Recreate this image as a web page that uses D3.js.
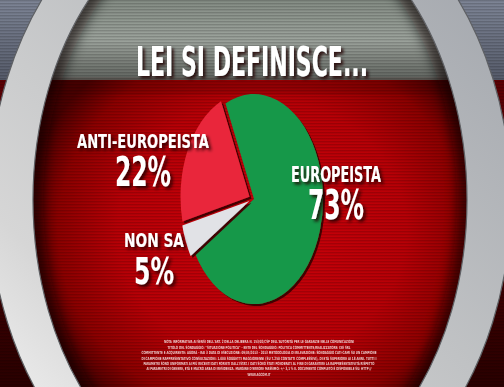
<!DOCTYPE html>
<html>
<head>
<meta charset="utf-8">
<script src="https://cdn.jsdelivr.net/npm/d3@7.9.0/dist/d3.min.js"></script>
<style>
  html, body { margin: 0; padding: 0; background: #000; overflow: hidden; }
  text { font-family: "Liberation Sans Narrow", "DejaVu Sans Condensed", "Liberation Sans", sans-serif; font-weight: bold; }
</style>
</head>
<body>
<svg id="chart" width="504" height="387"></svg>
<script>
// chart data
const categories = ['EUROPEISTA', 'NON SA', 'ANTI-EUROPEISTA'];
const values = [73, 5, 22];
const sliceColors = ['#17984a', '#e1e2e6', '#e9283a'];
const title = 'LEI SI DEFINISCE...';
const noteLines = [
  "NOTA INFORMATIVA AI SENSI DELL'ART. 2 DELLA DELIBERA N. 153/02/CSP DELL'AUTORITÀ PER LE GARANZIE NELLE COMUNICAZIONI",
  "TITOLO DEL SONDAGGIO: \"SITUAZIONE POLITICA\" - ENTE DEL SONDAGGIO: POLITICA COMMITTENTE/REALIZZATORE: IXÈ SRL",
  "COMMITTENTE E ACQUIRENTE: AGORÀ - RAI 3 DATA DI ESECUZIONE: 09/05/2013 - 2013 METODOLOGIA DI RILEVAZIONE: SONDAGGIO CATI-CAMI SU UN CAMPIONE",
  "DI CAMPIONE RAPPRESENTATIVO CONSULTAZIONI: 1.000 SOGGETTI MAGGIORENNI (SU 7.250 CONTATTI COMPLESSIVI), DI ETÀ SUPERIORE AI 18 ANNI. TUTTI I",
  "PARAMETRI SONO UNIFORMATI AI PIÙ RECENTI DATI FORNITI DALL'ISTAT. I DATI SONO STATI PONDERATI AL FINE DI GARANTIRE LA RAPPRESENTATIVITÀ RISPETTO",
  "AI PARAMETRI DI GENERE, ETÀ E MACRO AREA DI RESIDENZA. MARGINE D'ERRORE MASSIMO: +/- 3,1 % IL DOCUMENTO COMPLETO È DISPONIBILE SU: HTTP://",
  "WWW.AGCOM.IT"
];

const W = 504, H = 387;
const svg = d3.select('#chart');
const defs = svg.append('defs');

// ---- background stuff ----
const ringC = { x: 250, y: 200 };
const outerR = { x: 261, y: 332 };
const innerR = { x: 217, y: 299 };
const split = 80; // where the grey band ends and the red starts

const redGrad = defs.append('radialGradient').attr('id', 'redGrad')
  .attr('gradientUnits', 'userSpaceOnUse')
  .attr('cx', 262).attr('cy', 230).attr('r', 240)
  .attr('gradientTransform', 'translate(262,230) scale(1,0.9) translate(-262,-230)');
redGrad.append('stop').attr('offset', '0%').attr('stop-color', '#cc000a');
redGrad.append('stop').attr('offset', '60%').attr('stop-color', '#b80006');
redGrad.append('stop').attr('offset', '85%').attr('stop-color', '#8c0000');
redGrad.append('stop').attr('offset', '100%').attr('stop-color', '#4a0000');

const greyGrad = defs.append('linearGradient').attr('id', 'greyGrad')
  .attr('x1', 0).attr('y1', 0).attr('x2', 0).attr('y2', 1);
greyGrad.append('stop').attr('offset', '0%').attr('stop-color', '#858d85');
greyGrad.append('stop').attr('offset', '50%').attr('stop-color', '#9ca39c');
greyGrad.append('stop').attr('offset', '100%').attr('stop-color', '#60645f');

const outGrey = defs.append('linearGradient').attr('id', 'outGrey')
  .attr('x1', 0).attr('y1', 0).attr('x2', 0).attr('y2', 1);
outGrey.append('stop').attr('offset', '0%').attr('stop-color', '#7e8596');
outGrey.append('stop').attr('offset', '100%').attr('stop-color', '#565b6a');

const outRed = defs.append('linearGradient').attr('id', 'outRed')
  .attr('x1', 0).attr('y1', 0).attr('x2', 0).attr('y2', 1);
outRed.append('stop').attr('offset', '0%').attr('stop-color', '#6a0004');
outRed.append('stop').attr('offset', '100%').attr('stop-color', '#2a0000');

const ringGrad = defs.append('linearGradient').attr('id', 'ringGrad')
  .attr('x1', 0.9).attr('y1', 0).attr('x2', 0.1).attr('y2', 1);
ringGrad.append('stop').attr('offset', '0%').attr('stop-color', '#9fa3aa');
ringGrad.append('stop').attr('offset', '45%').attr('stop-color', '#c0c2c4');
ringGrad.append('stop').attr('offset', '75%').attr('stop-color', '#d6d6d6');
ringGrad.append('stop').attr('offset', '100%').attr('stop-color', '#fafafa');

const stripes = defs.append('pattern').attr('id', 'stripes')
  .attr('patternUnits', 'userSpaceOnUse').attr('width', 8).attr('height', 3);
stripes.append('rect').attr('width', 8).attr('height', 1.4).attr('fill', '#000').attr('opacity', 0.16);

defs.append('clipPath').attr('id', 'inside')
  .append('ellipse').attr('cx', ringC.x).attr('cy', ringC.y).attr('rx', innerR.x).attr('ry', innerR.y);

const blur = defs.append('filter').attr('id', 'blur').attr('x', '-20%').attr('y', '-20%').attr('width', '140%').attr('height', '140%');
blur.append('feGaussianBlur').attr('stdDeviation', 6);

const textShadow = defs.append('filter').attr('id', 'textShadow')
  .attr('x', '-20%').attr('y', '-30%').attr('width', '150%').attr('height', '170%');
textShadow.append('feDropShadow').attr('dx', 2.5).attr('dy', 2.5).attr('stdDeviation', 1.4)
  .attr('flood-color', '#1a0000').attr('flood-opacity', 0.85);

const sliceShadow = defs.append('filter').attr('id', 'sliceShadow')
  .attr('x', '-20%').attr('y', '-20%').attr('width', '140%').attr('height', '140%');
sliceShadow.append('feDropShadow').attr('dx', 2).attr('dy', 2).attr('stdDeviation', 0.6)
  .attr('flood-color', '#3c0000').attr('flood-opacity', 0.95);

// outside the ring
svg.append('rect').attr('width', W).attr('height', H).attr('fill', 'url(#outRed)');
svg.append('rect').attr('width', W).attr('height', split).attr('fill', 'url(#outGrey)');

// inside the ring
const inside = svg.append('g').attr('clip-path', 'url(#inside)');
inside.append('rect').attr('width', W).attr('height', H).attr('fill', 'url(#redGrad)');
inside.append('rect').attr('width', W).attr('height', split).attr('fill', 'url(#greyGrad)');
// dark shade just under the title band
inside.append('rect').attr('x', 0).attr('y', split).attr('width', W).attr('height', 12)
  .attr('fill', '#3a0000').attr('opacity', 0.3).attr('filter', 'url(#blur)');
// inner shadow along the ring
inside.append('ellipse').attr('cx', ringC.x).attr('cy', ringC.y).attr('rx', innerR.x).attr('ry', innerR.y)
  .attr('fill', 'none').attr('stroke', '#100000').attr('stroke-width', 20).attr('opacity', 0.6)
  .attr('filter', 'url(#blur)');

svg.append('rect').attr('width', W).attr('height', H).attr('fill', 'url(#stripes)');

// metal ring
const ellipsePath = (c, r) =>
  `M${c.x - r.x},${c.y}a${r.x},${r.y} 0 1,0 ${2 * r.x},0a${r.x},${r.y} 0 1,0 ${-2 * r.x},0Z`;
svg.append('path')
  .attr('d', ellipsePath(ringC, outerR) + ellipsePath(ringC, innerR))
  .attr('fill-rule', 'evenodd').attr('fill', 'url(#ringGrad)')
  .attr('stroke', '#5e6064').attr('stroke-width', 1.2);

// ---- title ----
svg.append('text').attr('x', 252).attr('y', 76)
  .attr('text-anchor', 'middle').attr('font-size', 40)
  .attr('textLength', 232).attr('lengthAdjust', 'spacingAndGlyphs')
  .attr('fill', '#fff').attr('filter', 'url(#textShadow)')
  .text(title);

// ---- pie ----
const cx = 254, cy = 199;
const ry = 105, rx = 69;
const start = -24.4 * Math.PI / 180;
const pie = d3.pie().sort(null).value(d => d)
  .startAngle(start).endAngle(start + 2 * Math.PI);
const arc = d3.arc().innerRadius(0).outerRadius(ry);
const explode = [0, 5, 5];

const arcs = pie(values);
arcs.forEach((a, i) => {
  const mid = (a.startAngle + a.endAngle) / 2;
  const dx = Math.sin(mid) * explode[i];
  const dy = -Math.cos(mid) * explode[i];
  svg.append('g')
    .attr('transform', `translate(${cx + dx},${cy + dy})`)
    .attr('filter', 'url(#sliceShadow)')
    .append('path')
    .attr('d', arc(a))
    .attr('transform', `scale(${rx / ry},1)`)
    .attr('fill', sliceColors[i]);
});

// ---- labels ----
const labelPos = {
  'EUROPEISTA':      { x: 336, y1: 182, s1: 21, w1: 90,  y2: 219, s2: 40, w2: 56 },
  'NON SA':          { x: 154, y1: 247, s1: 20, w1: 60,  y2: 284, s2: 37, w2: 40 },
  'ANTI-EUROPEISTA': { x: 143, y1: 148, s1: 20, w1: 132, y2: 186, s2: 40, w2: 56 }
};
categories.forEach((c, i) => {
  const p = labelPos[c];
  const g = svg.append('g').attr('filter', 'url(#textShadow)').attr('fill', '#fff');
  g.append('text').attr('x', p.x).attr('y', p.y1).attr('text-anchor', 'middle')
    .attr('font-size', p.s1).attr('textLength', p.w1).attr('lengthAdjust', 'spacingAndGlyphs')
    .text(c);
  g.append('text').attr('x', p.x).attr('y', p.y2).attr('text-anchor', 'middle')
    .attr('font-size', p.s2).attr('textLength', p.w2).attr('lengthAdjust', 'spacingAndGlyphs')
    .text(`${values[i]}%`);
});

// ---- fine print ----
const noteY = [341, 347, 352, 358, 363, 368, 374];
const noteW = [190, 183, 235, 235, 231, 225, 23];
noteLines.forEach((t, i) => {
  svg.append('text').attr('x', 259).attr('y', noteY[i] + 1.5)
    .attr('text-anchor', 'middle').attr('font-size', 4.3)
    .attr('textLength', noteW[i]).attr('lengthAdjust', 'spacingAndGlyphs')
    .attr('fill', '#f4dcdc').attr('opacity', 0.9)
    .text(t);
});
</script>
</body>
</html>
